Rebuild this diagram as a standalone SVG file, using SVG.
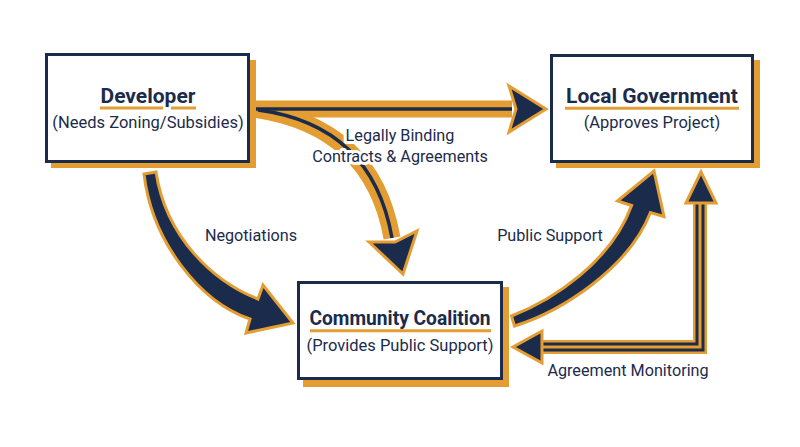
<svg xmlns="http://www.w3.org/2000/svg" width="800" height="447" viewBox="0 0 800 447">
<style>
.shadow{fill:#e39d33}
.box{fill:#ffffff;stroke:#1b2b4b;stroke-width:3}
.title{font-family:Roboto,"Liberation Sans",sans-serif;font-weight:700;font-size:21px;fill:#1b2b4b;text-anchor:middle}
.sub{font-family:Roboto,"Liberation Sans",sans-serif;font-size:16.5px;fill:#1b2b4b;text-anchor:middle}
.ul{stroke:#e39d33;stroke-width:3;fill:none}
.lbl{font-family:Roboto,"Liberation Sans",sans-serif;font-size:16.2px;fill:#1b2b4b;text-anchor:middle}
.halo{paint-order:stroke;stroke:#ffffff;stroke-width:6;stroke-linejoin:round}
.band{fill:none;stroke:#e39d33;stroke-width:17}
.core{fill:none;stroke:#1b2b4b;stroke-width:3.5}
.head{fill:#1b2b4b;stroke:#e39d33;stroke-width:3;stroke-linejoin:miter}
.o1{fill:none;stroke:#e39d33;stroke-width:14;stroke-linejoin:miter}
.n1{fill:none;stroke:#1b2b4b;stroke-width:9;stroke-linejoin:miter}
.o2{fill:none;stroke:#e39d33;stroke-width:3;stroke-linejoin:miter}
</style>

<g id="connectors">
  <!-- Developer -> Local Government & Community Coalition (legally binding) -->
  <path class="band" d="M250,109 H512"/>
  <path class="band" d="M252,109 Q372,125 392,238"/>
  <path class="core" d="M256,109 H512"/>
  <path class="core" d="M258,110 Q372,125 392,238"/>
  <polygon class="head" points="509,86 546,109 509,132 516,109"/>
  <polygon class="head" points="369,242 403,274 417,231 395,242"/>

  <!-- Negotiations -->
  <path class="head" d="M144,174 L156,172 C166,238 214,282 258,299 L263,285 L293,323 L246,333 L250,319 C200,302 152,242 144,174 Z"/>

  <!-- Public Support -->
  <path class="head" d="M511.5,316 C553,300 611,262 631.6,205.5 L617.5,201 L654,171 L664,216.5 L650.4,212.5 C629,268 562,311 514.5,326 Z"/>

  <!-- Agreement Monitoring -->
  <path class="o1" d="M700,203 V347 H542"/>
  <path class="n1" d="M700,203 V347 H542"/>
  <path class="o2" d="M700,203 V347 H542"/>
  <polygon class="head" points="686,203 701,172 716,203"/>
  <polygon class="head" points="542,331 513,347 542,363"/>

  <text class="lbl halo" x="400" y="141">Legally Binding</text>
  <text class="lbl halo" x="400" y="162">Contracts &amp; Agreements</text>
  <text class="lbl" x="251" y="241">Negotiations</text>
  <text class="lbl" x="550" y="241">Public Support</text>
  <text class="lbl" x="628" y="376">Agreement Monitoring</text>
</g>

<g id="developer">
  <rect class="shadow" x="51" y="60" width="205" height="108"/>
  <rect class="box" x="46.5" y="54.5" width="202" height="107"/>
  <text class="title" x="148" y="103">Developer</text>
  <line class="ul" x1="100" y1="108" x2="163" y2="108"/>
  <line class="ul" x1="171" y1="108" x2="196" y2="108"/>
  <text class="sub" x="148" y="128">(Needs Zoning/Subsidies)</text>
</g>

<g id="local-government">
  <rect class="shadow" x="556" y="60" width="204" height="108"/>
  <rect class="box" x="551.5" y="55.5" width="201" height="106"/>
  <text class="title" x="652" y="103">Local Government</text>
  <line class="ul" x1="565" y1="108.3" x2="739" y2="108.3"/>
  <text class="sub" x="652" y="128">(Approves Project)</text>
</g>

<g id="community-coalition">
  <rect class="shadow" x="303" y="287" width="206" height="100"/>
  <rect class="box" x="298.5" y="282.5" width="203" height="96"/>
  <text class="title" x="400" y="325" textLength="181" lengthAdjust="spacingAndGlyphs">Community Coalition</text>
  <line class="ul" x1="310" y1="330.7" x2="491" y2="330.7"/>
  <text class="sub" x="400" y="351">(Provides Public Support)</text>
</g>
</svg>
